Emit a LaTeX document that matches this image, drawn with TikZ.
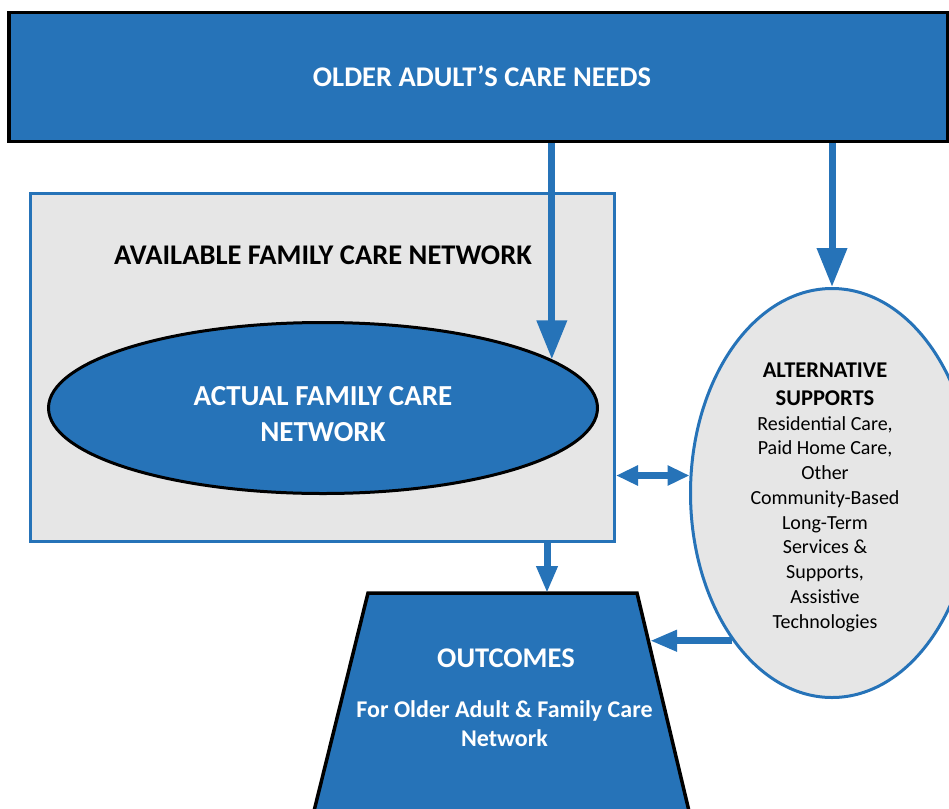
\documentclass[tikz,border=0pt]{standalone}
\usepackage{fontspec}
\setmainfont{Carlito}
\usetikzlibrary{arrows.meta,shapes.geometric}
\definecolor{netblue}{RGB}{38,115,184}
\definecolor{netgray}{RGB}{230,230,230}
\tikzset{
  needsbox/.style={rectangle, fill=netblue, draw=black, line width=3.5pt, inner sep=0pt},
  availbox/.style={rectangle, fill=netgray, draw=netblue, line width=3pt, inner sep=0pt},
  actualell/.style={ellipse, fill=netblue, draw=black, line width=3pt, inner sep=0pt},
  altell/.style={ellipse, fill=netgray, draw=netblue, line width=3pt, inner sep=0pt},
  outshape/.style={fill=netblue, draw=black, line width=3.5pt, line join=miter},
  headwhite/.style={text=white, font=\bfseries\fontsize{28.5}{36}\selectfont, align=center, inner sep=0pt},
  headblack/.style={text=black, font=\bfseries\fontsize{28.5}{36}\selectfont, align=center, inner sep=0pt},
  flow/.style={draw=netblue, line width=7pt, -{Triangle[length=39pt,width=29pt]}},
  flowsmall/.style={draw=netblue, line width=7pt, -{Triangle[length=27pt,width=20pt]}},
  flowboth/.style={draw=netblue, line width=7pt, {Triangle[length=22pt,width=19pt]}-{Triangle[length=22pt,width=19pt]}},
}
\begin{document}
\begin{tikzpicture}[x=1pt,y=-1pt]
\useasboundingbox (0,0) rectangle (949,808);

% care needs banner
\node[needsbox, minimum width=938.5pt, minimum height=128.5pt] (needs) at (478,77) {};
\node[headwhite] (needstxt) at (482,76) {OLDER ADULT’S CARE NEEDS};

% available family network
\node[availbox, minimum width=584pt, minimum height=348pt] (avail) at (322.5,367.5) {};
\node[headblack] (availtxt) at (323,255) {AVAILABLE FAMILY CARE NETWORK};

% actual family network
\node[actualell, minimum width=549pt, minimum height=171pt] (actual) at (323,408) {};
\node[headwhite, font=\bfseries\fontsize{29}{36}\selectfont] (actualtxt) at (323,414) {ACTUAL FAMILY CARE\\NETWORK};

% alternative supports
\node[altell, minimum width=283pt, minimum height=409pt] (alt) at (832,493) {};
\node[text=black, font=\bfseries\fontsize{22.5}{28}\selectfont, align=center, inner sep=0pt]
  (althead) at (825,384) {ALTERNATIVE\\SUPPORTS};
\node[text=black, font=\fontsize{20}{24.75}\selectfont, align=center, inner sep=0pt]
  (altbody) at (825,524) {Residential Care,\\Paid Home Care,\\Other\\Community-Based\\Long-Term\\Services \&\\Supports,\\Assistive\\Technologies};

% outcomes trapezoid
\coordinate (tTL) at (368,593);
\coordinate (tTR) at (637,593);
\coordinate (tBR) at (693.5,830);
\coordinate (tBL) at (309.3,830);
\coordinate (outTop) at (547,593);
\coordinate (outSide) at (650,642);
\path[outshape] (tTL) -- (tTR) -- (tBR) -- (tBL) -- cycle;
\node[headwhite] (outtxt) at (506,658) {OUTCOMES};
\node[text=white, font=\bfseries\fontsize{24}{29}\selectfont, align=center, inner sep=0pt]
  (outsub) at (504.5,723.5) {For Older Adult \& Family Care\\Network};

% connectors
\draw[flow] (needs.south -| actual.12) -- (actual.12);
\draw[flow] (needs.south -| alt.north) -- (alt.north);
\draw[flowboth] (avail.east |- alt.173.6) -- (alt.173.6);
\draw[flowsmall] (avail.south -| outTop) -- (outTop);
\draw[flowsmall] (alt.236.5) -- (alt.236.5 -| outSide);
\end{tikzpicture}
\end{document}
